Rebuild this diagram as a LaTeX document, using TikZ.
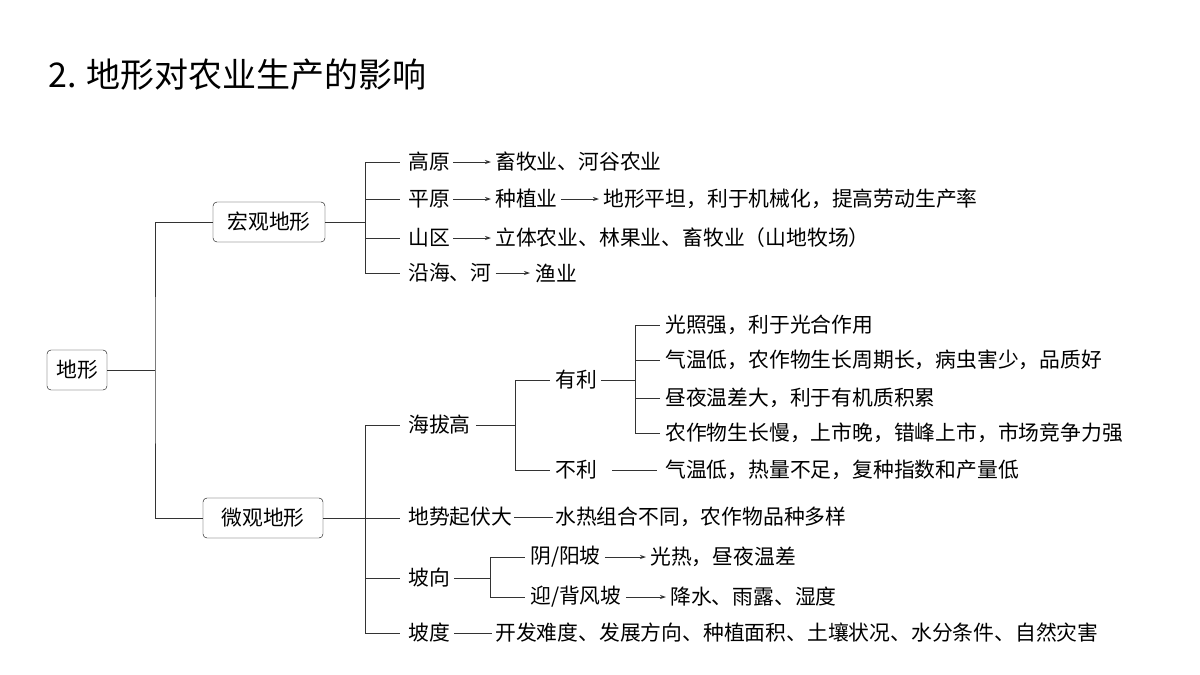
\documentclass[tikz,border=0pt]{standalone}
\usepackage{fontspec}
\setmainfont{Noto Sans CJK SC}
\usetikzlibrary{arrows.meta}
\begin{document}
\begin{tikzpicture}[x=1pt,y=-1pt,
 t/.style={anchor=west,inner sep=0pt,font=\fontsize{20.8}{22}\selectfont},
 box/.style={draw,rounded corners=4pt,inner sep=0pt,minimum height=40pt,font=\fontsize{20.8}{22}\selectfont},
 ln/.style={draw=black!80,line width=0.8pt},
 ar/.style={ln,-{Stealth[length=6pt,width=4pt]}}]
\useasboundingbox (0,0) rectangle (1200,675);
\node[anchor=west,inner sep=0pt,font=\fontsize{34}{36}\selectfont] (title) at (48,75) {2. 地形对农业生产的影响};
\node[box,minimum width=60pt] (dx) at (77,370) {地形};
\node[box,minimum width=112pt] (hg) at (269,222) {宏观地形};
\node[box,minimum width=120pt] (wg) at (263,518) {微观地形};
\draw[ln] (dx.east) -- (155,370) coordinate (j0);
\draw[ln] (hg.west) -| (j0) |- (wg.west);
% macro
\coordinate (m1) at (365,162); \coordinate (m4) at (365,273);
\draw[ln] (hg.east) -- (365,222);
\draw[ln] (m1) -- (m4);
\foreach \y in {162,199,238,273} \draw[ln] (365,\y) -- (400,\y);
\node[t] (a1) at (408,162) {高原};
\node[t] (a1b) at (495,162) {畜牧业、河谷农业};
\draw[ar] (a1.east)++(3,0) -- ([xshift=-4pt]a1b.west);
\node[t] (a2) at (408,199) {平原};
\node[t] (a2b) at (495,199) {种植业};
\node[t] (a2c) at (603,199) {地形平坦，利于机械化，提高劳动生产率};
\draw[ar] (a2.east)++(3,0) -- ([xshift=-4pt]a2b.west);
\draw[ar] (a2b.east)++(3,0) -- ([xshift=-4pt]a2c.west);
\node[t] (a3) at (408,238) {山区};
\node[t] (a3b) at (495,238) {立体农业、林果业、畜牧业（山地牧场）};
\draw[ar] (a3.east)++(3,0) -- ([xshift=-4pt]a3b.west);
\node[t] (a4) at (408,273) {沿海、河};
\node[t] (a4b) at (535,273) {渔业};
\draw[ar] (a4.east)++(4,0) -- ([xshift=-5pt]a4b.west);
% micro
\draw[ln] (wg.east) -- (365,518);
\draw[ln] (365,425) -- (365,633);
\foreach \y in {425,518,578,633} \draw[ln] (365,\y) -- (400,\y);
\node[t] (b1) at (408,425) {海拔高};
\draw[ln] (b1.east)++(5,0) -- (515,425);
\draw[ln] (515,380) -- (515,470);
\draw[ln] (515,380) -- (550,380); \draw[ln] (515,470) -- (550,470);
\node[t] (y1) at (555,380) {有利};
\draw[ln] (y1.east)++(4,0) -- (635,380);
\draw[ln] (635,325) -- (635,433);
\foreach \y in {325,360,398,433} \draw[ln] (635,\y) -- (660,\y);
\node[t] (c1) at (665,325) {光照强，利于光合作用};
\node[t] (c2) at (665,360) {气温低，农作物生长周期长，病虫害少，品质好};
\node[t] (c3) at (665,398) {昼夜温差大，利于有机质积累};
\node[t] (c4) at (665,433) {农作物生长慢，上市晚，错峰上市，市场竞争力强};
\node[t] (y2) at (555,470) {不利};
\node[t] (c5) at (665,470) {气温低，热量不足，复种指数和产量低};
\draw[ln] (612,470) -- ([xshift=-8pt]c5.west);
\node[t] (b2) at (408,517) {地势起伏大};
\node[t] (b2b) at (555,517) {水热组合不同，农作物品种多样};
\draw[ln] (b2.east)++(2,0) -- ([xshift=-2pt]b2b.west);
\node[t] (b3) at (408,578) {坡向};
\draw[ln] (b3.east)++(4,0) -- (490,578);
\draw[ln] (490,557) -- (490,597);
\draw[ln] (490,557) -- (525,557); \draw[ln] (490,597) -- (525,597);
\node[t] (d1) at (530,557) {阴/阳坡};
\node[t] (d1b) at (650,557) {光热，昼夜温差};
\draw[ar] (d1.east)++(4,0) -- ([xshift=-4pt]d1b.west);
\node[t] (d2) at (530,597) {迎/背风坡};
\node[t] (d2b) at (670,597) {降水、雨露、湿度};
\draw[ar] (d2.east)++(4,0) -- ([xshift=-4pt]d2b.west);
\node[t] (b4) at (408,633) {坡度};
\node[t] (b4b) at (495,633) {开发难度、发展方向、种植面积、土壤状况、水分条件、自然灾害};
\draw[ln] (b4.east)++(4,0) -- ([xshift=-3pt]b4b.west);
\end{tikzpicture}
\end{document}
